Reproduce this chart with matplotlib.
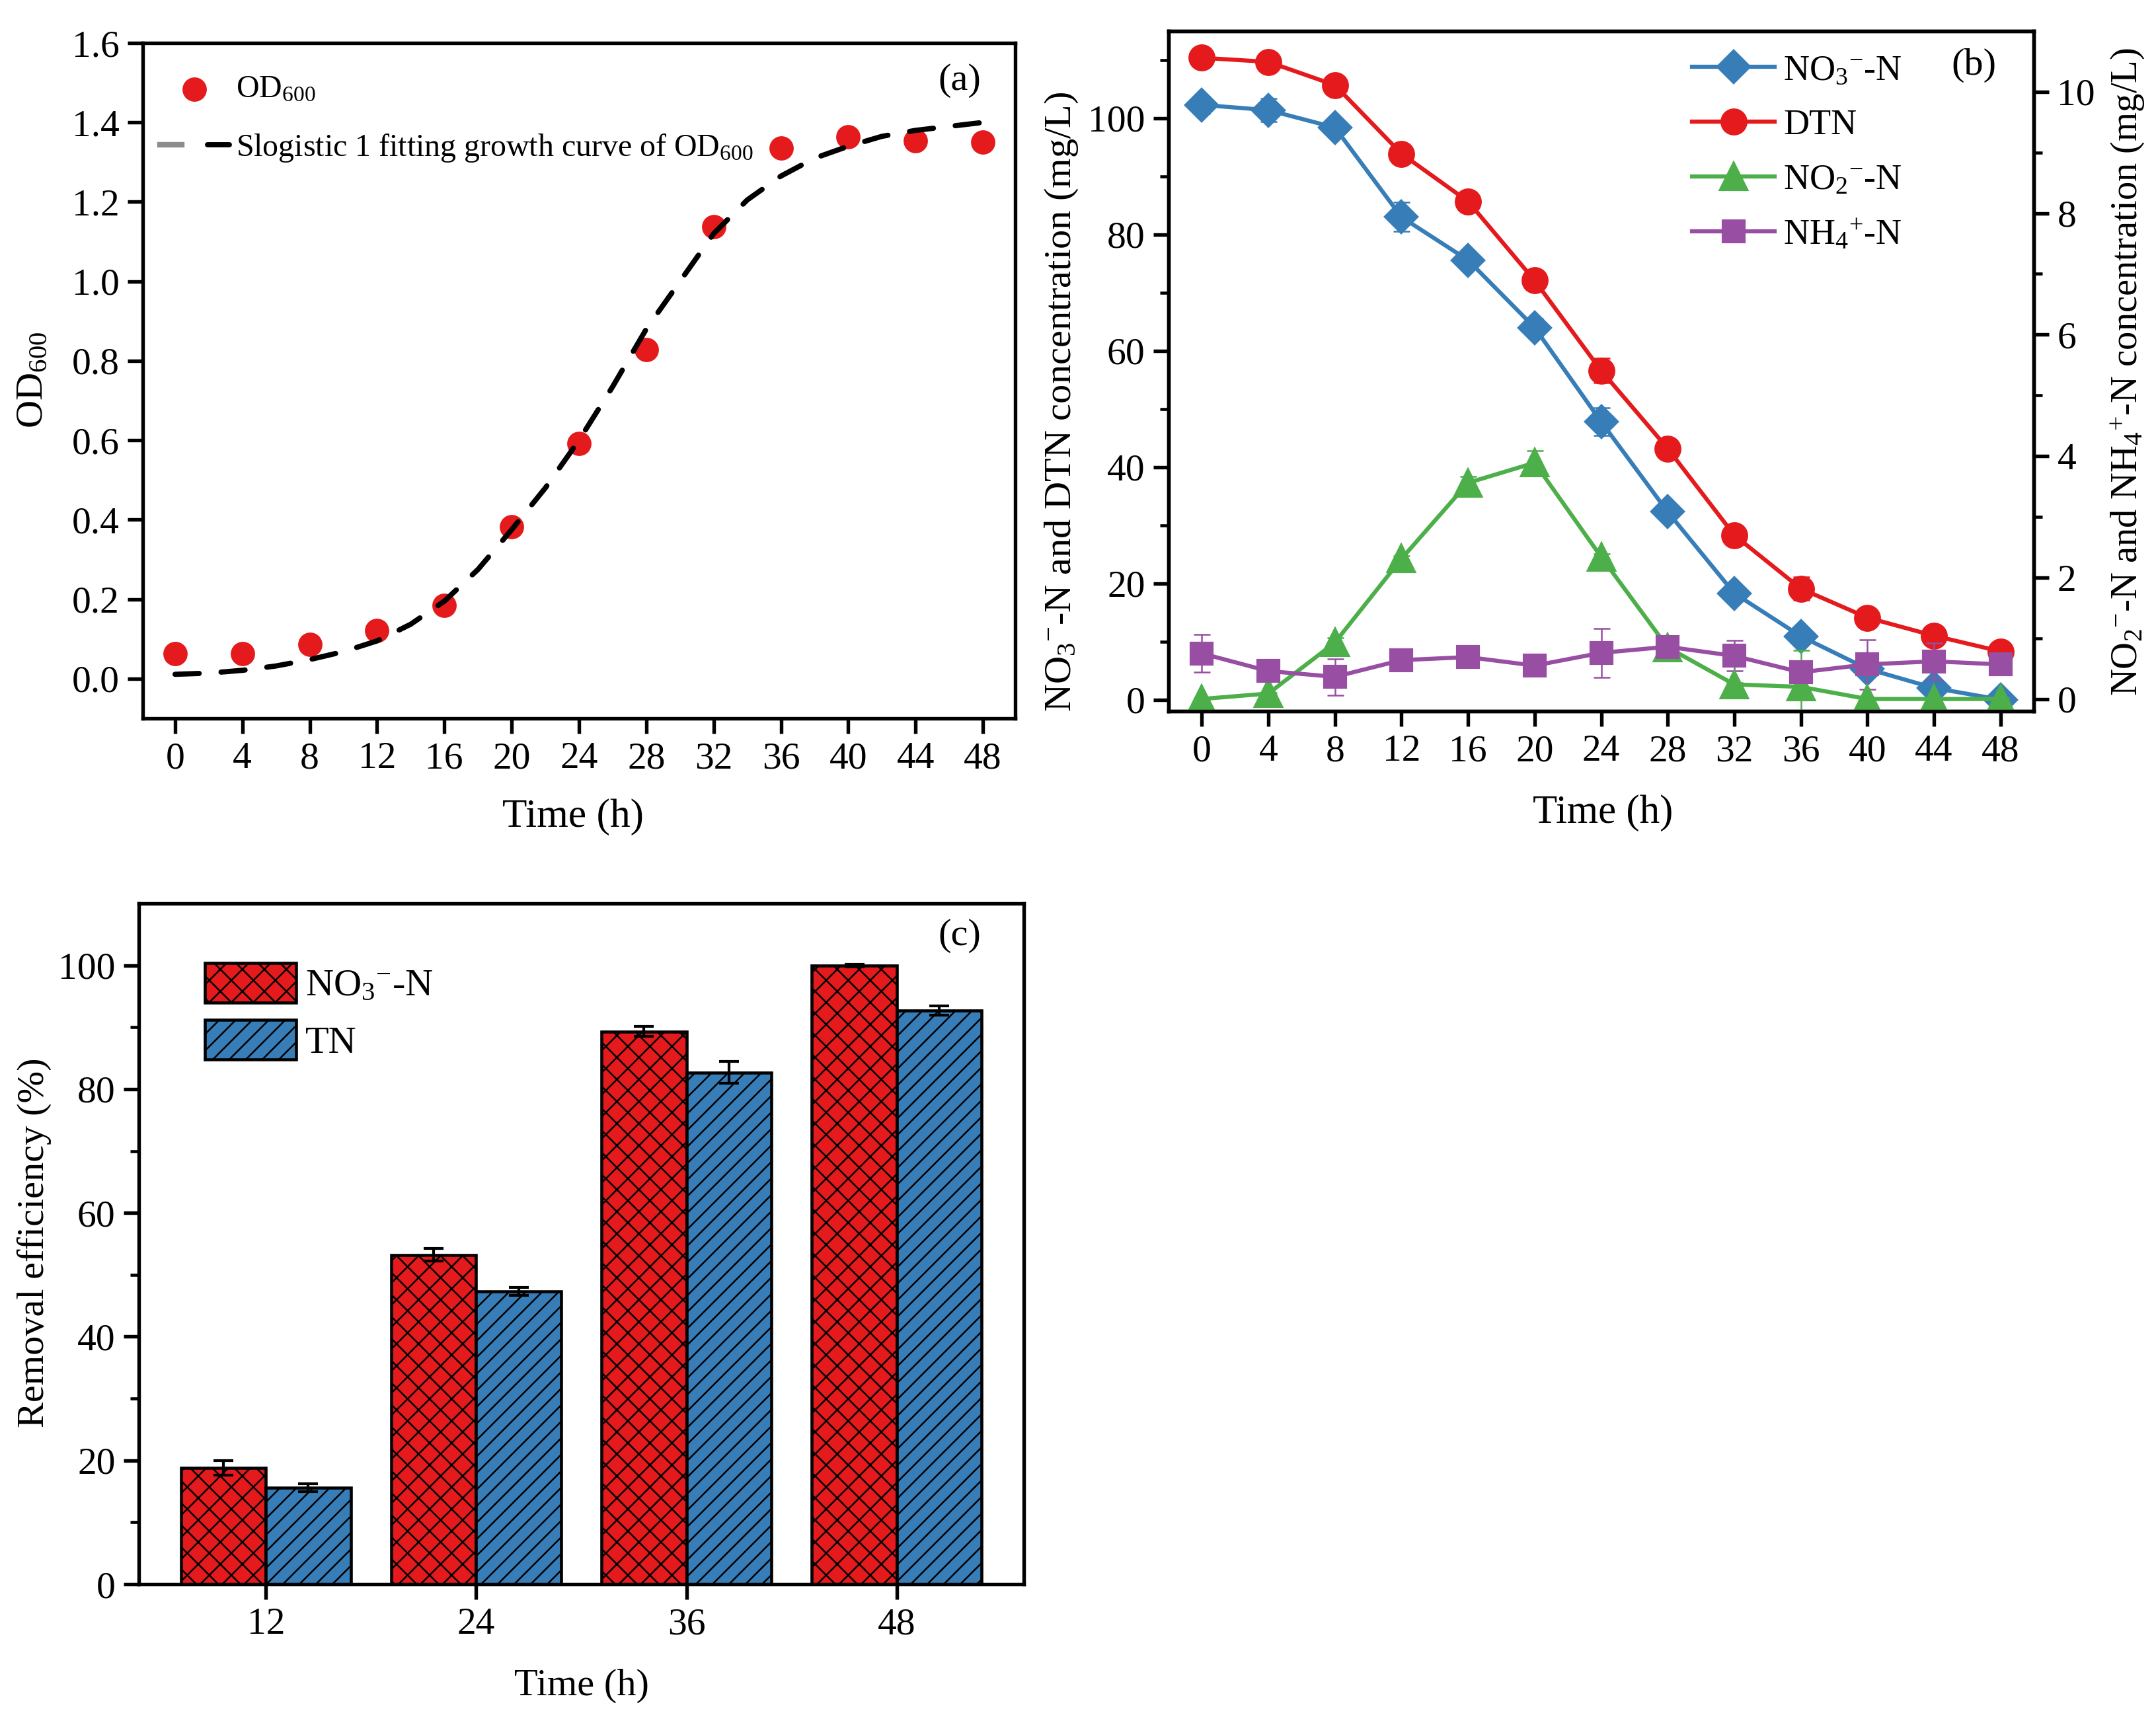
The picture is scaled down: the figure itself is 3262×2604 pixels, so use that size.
import matplotlib
matplotlib.use("Agg")
import matplotlib.pyplot as plt
import numpy as np
from matplotlib.legend_handler import HandlerTuple
from matplotlib.lines import Line2D

plt.rcParams['font.family'] = ['Liberation Serif', 'DejaVu Serif']
plt.rcParams['mathtext.fontset'] = 'custom'
plt.rcParams['mathtext.rm'] = 'Liberation Serif'
plt.rcParams['mathtext.it'] = 'Liberation Serif:italic'
plt.rcParams['mathtext.bf'] = 'Liberation Serif:bold'
plt.rcParams['mathtext.default'] = 'regular'
plt.rcParams['hatch.linewidth'] = 0.6
plt.rcParams['axes.linewidth'] = 1.3

RED = '#E41A1C'
BLUE = '#377EB8'
GREEN = '#4DAF4A'
PURPLE = '#984EA3'

# panel a
time_a = [0, 4, 8, 12, 16, 20, 24, 28, 32, 36, 40, 44, 48]
od600 = [0.0625, 0.0625, 0.087, 0.121, 0.185, 0.382, 0.592, 0.829, 1.137, 1.335, 1.364, 1.353, 1.350]
fit_time = [0, 2, 4, 6, 8, 10, 12, 14, 16, 18, 20, 22, 24, 26, 28, 30, 32, 34, 36, 38, 40, 42, 44, 46, 48]
fit_od600 = [0.011, 0.014, 0.021, 0.032, 0.048, 0.068, 0.095, 0.137, 0.195, 0.275, 0.375, 0.48, 0.60,
             0.735, 0.88, 1.0, 1.12, 1.205, 1.265, 1.31, 1.34, 1.365, 1.38, 1.39, 1.40]

# panel b
time_b = time_a
no3 = [102.3, 101.4, 98.4, 83.0, 75.6, 64.0, 47.8, 32.3, 18.3, 10.9, 5.3, 2.0, 0.0]
no3_err = [1.5, 2.0, 1.0, 2.5, 1.0, 1.5, 2.4, 1.0, 1.0, 1.0, 0.5, 0.5, 0.2]
dtn = [110.4, 109.7, 105.7, 93.9, 85.7, 72.1, 56.6, 43.2, 28.3, 19.1, 14.1, 11.0, 8.3]
dtn_err = [0.5, 0.8, 0.8, 1.0, 1.0, 0.8, 2.1, 1.0, 0.8, 2.0, 1.0, 0.5, 0.5]
no2 = [0.0, 0.09, 0.93, 2.31, 3.56, 3.89, 2.34, 0.85, 0.24, 0.20, 0.0, 0.0, 0.0]
no2_err = [0.02, 0.02, 0.08, 0.05, 0.1, 0.2, 0.05, 0.1, 0.03, 0.6, 0.02, 0.02, 0.02]
nh4 = [0.75, 0.46, 0.365, 0.64, 0.69, 0.55, 0.76, 0.86, 0.71, 0.44, 0.57, 0.62, 0.57]
nh4_err = [0.31, 0.05, 0.3, 0.05, 0.05, 0.05, 0.4, 0.05, 0.25, 0.1, 0.41, 0.3, 0.05]

# panel c
time_c = ['12', '24', '36', '48']
no3_removal = [18.8, 53.2, 89.3, 100.0]
no3_removal_err = [1.2, 1.0, 0.8, 0.2]
tn_removal = [15.6, 47.3, 82.7, 92.7]
tn_removal_err = [0.65, 0.6, 1.8, 0.8]

W, H = 3262, 2604
fig = plt.figure(figsize=(W / 300, H / 300), dpi=300, facecolor='white')


def add_axes(left, top, right, bottom):
    return fig.add_axes([left / W, 1 - bottom / H, (right - left) / W, (bottom - top) / H])


def place_xlabel(ax, text, x, y, size=14):
    ax.set_xlabel(text, fontsize=size, va='center', ha='center')
    ax.xaxis.set_label_coords(x / W, 1 - y / H, transform=fig.transFigure)


def place_ylabel(ax, text, x, y, size=14):
    ax.set_ylabel(text, fontsize=size, va='center', ha='center', rotation=90)
    ax.yaxis.set_label_coords(x / W, 1 - y / H, transform=fig.transFigure)


def style_ticks(ax):
    ax.tick_params(which='major', direction='out', length=5.5, width=1.3, labelsize=13.8, pad=3)
    ax.tick_params(which='minor', direction='out', length=3.2, width=1.1)


# (a)
ax_a = add_axes(216, 65, 1536, 1087)
fit_line, = ax_a.plot(fit_time, fit_od600, color='black', lw=1.9, dashes=(4.6, 4.2), dash_capstyle='round')
pts = ax_a.scatter(time_a, od600, s=78, color=RED, linewidths=0, zorder=3)
fit_line.set_zorder(4)
ax_a.set_xlim(-1.92, 49.92)
ax_a.set_ylim(-0.1, 1.6)
ax_a.set_xticks(time_a)
ax_a.set_yticks(np.arange(0, 1.61, 0.2))
ax_a.set_yticklabels(['%.1f' % v for v in np.arange(0, 1.61, 0.2)])
style_ticks(ax_a)
place_xlabel(ax_a, 'Time (h)', 867, 1236, 14.7)
place_ylabel(ax_a, 'OD$_{600}$', 50, 575)
ax_a.text(46.6, 1.505, '(a)', fontsize=14, ha='center', va='center')

grey_stub = Line2D([], [], color='#8c8c8c', lw=2.0)
black_stub = Line2D([], [], color='black', lw=1.9, solid_capstyle='round')
ax_a.legend([pts, (grey_stub, black_stub)],
            ['OD$_{600}$', 'Slogistic 1 fitting growth curve of OD$_{600}$'],
            handler_map={tuple: HandlerTuple(ndivide=None, pad=0.8)},
            loc='upper left', bbox_to_anchor=(0.0086, 0.967), frameon=False, fontsize=11.5,
            handlelength=2.2, handletextpad=0.2, labelspacing=0.9, borderpad=0.3, borderaxespad=0)

# (b)
ax_b = add_axes(1768, 47, 3077, 1076)
ax_b2 = ax_b.twinx()
ax_b2.set_zorder(ax_b.get_zorder() + 1)
line_kw = dict(lw=1.5, elinewidth=0.6, capsize=3, capthick=0.6)
h_no3 = ax_b.errorbar(time_b, no3, yerr=no3_err, color=BLUE, marker='D', ms=8, **line_kw)
h_dtn = ax_b.errorbar(time_b, dtn, yerr=dtn_err, color=RED, marker='o', ms=8.8, **line_kw)
h_no2 = ax_b2.errorbar(time_b, no2, yerr=no2_err, color=GREEN, marker='^', ms=9.8, **line_kw)
h_nh4 = ax_b2.errorbar(time_b, nh4, yerr=nh4_err, color=PURPLE, marker='s', ms=7.8, **line_kw)
ax_b.set_xlim(-2, 50)
ax_b.set_ylim(-1.98, 115)
ax_b2.set_ylim(-0.2, 11)
ax_b.set_xticks(time_b)
ax_b.set_yticks(range(0, 101, 20))
ax_b.set_yticks(range(10, 111, 20), minor=True)
ax_b2.set_yticks(range(0, 11, 2))
ax_b2.set_yticks(range(1, 10, 2), minor=True)
style_ticks(ax_b)
style_ticks(ax_b2)
place_xlabel(ax_b, 'Time (h)', 2425, 1230, 14.6)
place_ylabel(ax_b, 'NO$_3$$^{-}$-N and DTN concentration (mg/L)', 1606, 608)
place_ylabel(ax_b2, 'NO$_2$$^{-}$-N and NH$_4$$^{+}$-N concentration (mg/L)', 3219, 563, 13.6)
ax_b2.text(46.4, 10.43, '(b)', fontsize=14, ha='center', va='center')
ax_b2.legend([h_no3[0], h_dtn[0], h_no2[0], h_nh4[0]],
             ['NO$_3$$^{-}$-N', 'DTN', 'NO$_2$$^{-}$-N', 'NH$_4$$^{+}$-N'],
             loc='upper left', bbox_to_anchor=(0.597, 0.977), frameon=False, fontsize=13,
             handlelength=2.3, handletextpad=0.25, labelspacing=0.6, borderpad=0.2, borderaxespad=0)

# (c)
ax_c = add_axes(210, 1367, 1549, 2397)
x_c = np.arange(len(time_c))
bar_w = 0.404
err_kw = dict(ecolor='black', capsize=3.6, error_kw=dict(elinewidth=1.0, capthick=1.0))
bars_no3 = ax_c.bar(x_c - bar_w / 2, no3_removal, bar_w, yerr=no3_removal_err, color=RED, edgecolor='black',
                    hatch='xxx', linewidth=1.1, **err_kw)
bars_tn = ax_c.bar(x_c + bar_w / 2, tn_removal, bar_w, yerr=tn_removal_err, color=BLUE, edgecolor='black',
                   hatch='////', linewidth=1.1, **err_kw)
ax_c.set_xlim(-0.604, 3.604)
ax_c.set_ylim(0, 110)
ax_c.set_xticks(x_c)
ax_c.set_xticklabels(time_c)
ax_c.set_yticks(range(0, 101, 20))
ax_c.set_yticks(range(10, 91, 20), minor=True)
style_ticks(ax_c)
place_xlabel(ax_c, 'Time (h)', 880, 2551)
place_ylabel(ax_c, 'Removal efficiency (%)', 52, 1880)
ax_c.text(3.3, 104.8, '(c)', fontsize=14, ha='center', va='center')
ax_c.legend([bars_no3, bars_tn], ['NO$_3$$^{-}$-N', 'TN'], loc='upper left', bbox_to_anchor=(0.075, 0.913),
            frameon=False, fontsize=14, handlelength=2.35, handleheight=1.21, handletextpad=0.25,
            labelspacing=0.42, borderpad=0, borderaxespad=0)

fig.savefig('out.png', dpi=300)
